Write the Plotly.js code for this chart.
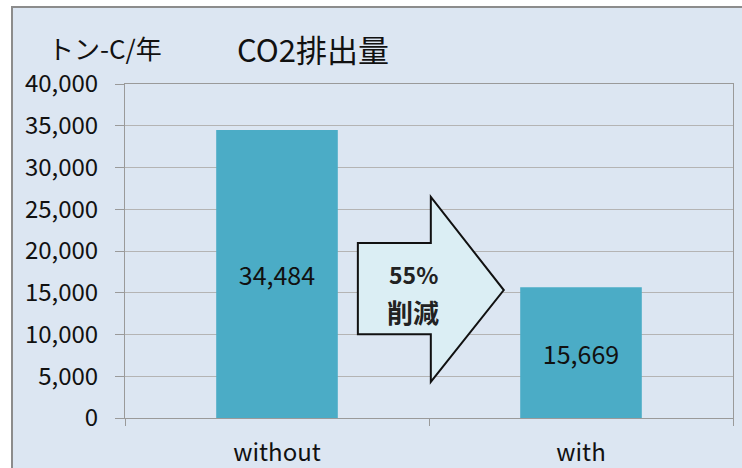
<!DOCTYPE html>
<html>
<head>
<meta charset="utf-8">
<script src="https://cdn.plot.ly/plotly-3.0.1.min.js"></script>
<style>html,body{margin:0;padding:0;background:#fff;}#chart{width:742px;height:468px;}</style>
</head>
<body>
<div id="chart"></div>
<script>
const categories = ["without", "with"];
const emissions = [34484, 15669];
const barLabels = ["34,484", "15,669"];
const yTickVals = [0, 5000, 10000, 15000, 20000, 25000, 30000, 35000, 40000];
const yTickText = ["0", "5,000", "10,000", "15,000", "20,000", "25,000", "30,000", "35,000", "40,000"];
const titleText = "CO2排出量";
const unitText = "トン-C/年";
const reductionPct = "55%";
const reductionWord = "削減";

const FONT = "'Noto Sans CJK JP', 'Open Sans', sans-serif";

const trace = {
  type: "bar",
  x: categories,
  y: emissions,
  text: barLabels,
  texttemplate: "%{text}",
  textposition: "inside",
  insidetextanchor: "middle",
  textfont: {family: FONT, size: 25, color: "#111"},
  marker: {color: "#4bacc6", line: {width: 0}},
  hoverinfo: "none"
};

// arrow in paper coordinates
const ax = {l: 0.383, base: 0.503, tip: 0.623, bt: 0.524, bb: 0.251, ht: 0.662, hb: 0.108, ty: 0.383};
const arrowPath = `M ${ax.l} ${ax.bb} L ${ax.l} ${ax.bt} L ${ax.base} ${ax.bt} L ${ax.base} ${ax.ht} L ${ax.tip} ${ax.ty} L ${ax.base} ${ax.hb} L ${ax.base} ${ax.bb} Z`;

const layout = {
  width: 742,
  height: 468,
  margin: {l: 125, r: 9, t: 84, b: 50, pad: 0},
  paper_bgcolor: "#ffffff",
  plot_bgcolor: "#ffffff",
  showlegend: false,
  bargap: 0.6,
  font: {family: FONT, color: "#111"},
  xaxis: {
    type: "category",
    showgrid: false,
    showline: true,
    linecolor: "#9a9a9a",
    linewidth: 1,
    mirror: true,
    ticks: "outside",
    tickson: "boundaries",
    ticklen: 7,
    tickcolor: "#9a9a9a",
    ticklabelstandoff: 13,
    tickfont: {family: FONT, size: 24, color: "#111"},
    fixedrange: true
  },
  yaxis: {
    range: [0, 40000],
    tickvals: yTickVals,
    ticktext: yTickText,
    showgrid: true,
    gridcolor: "#b4b4b4",
    gridwidth: 1,
    showline: true,
    linecolor: "#9a9a9a",
    mirror: true,
    ticks: "outside",
    ticklen: 9,
    tickcolor: "#9a9a9a",
    ticklabelstandoff: 12,
    tickfont: {family: FONT, size: 24, color: "#111"},
    zeroline: false,
    fixedrange: true
  },
  shapes: [
    {
      type: "rect", xref: "paper", yref: "paper", layer: "below",
      x0: (12 - 125) / 608, x1: 1.5, y0: -0.5, y1: (418 - 7) / 334,
      fillcolor: "#dce6f2", line: {color: "#8c8c8c", width: 2}
    },
    {
      type: "path", xref: "paper", yref: "paper", layer: "above",
      path: arrowPath,
      fillcolor: "#dbeef4", line: {color: "#111111", width: 2}
    }
  ],
  annotations: [
    {
      text: titleText, xref: "paper", yref: "paper",
      x: (313 - 125) / 608, y: (418 - 48) / 334, xanchor: "center", yanchor: "middle",
      showarrow: false, font: {family: FONT, size: 31, color: "#111"}
    },
    {
      text: unitText, xref: "paper", yref: "paper",
      x: (105 - 125) / 608, y: (418 - 47) / 334, xanchor: "center", yanchor: "middle",
      showarrow: false, font: {family: FONT, size: 26, color: "#111"}
    },
    {
      text: reductionPct, xref: "paper", yref: "paper",
      x: (413 - 125) / 608, y: (418 - 274) / 334, xanchor: "center", yanchor: "middle",
      showarrow: false,
      font: {family: FONT, size: 23, color: "#222", weight: "bold"}
    },
    {
      text: reductionWord, xref: "paper", yref: "paper",
      x: (413 - 125) / 608, y: (418 - 311) / 334, xanchor: "center", yanchor: "middle",
      showarrow: false,
      font: {family: FONT, size: 26, color: "#222", weight: "bold"}
    }
  ]
};

Plotly.newPlot("chart", [trace], layout, {displayModeBar: false, staticPlot: true});
</script>
</body>
</html>
